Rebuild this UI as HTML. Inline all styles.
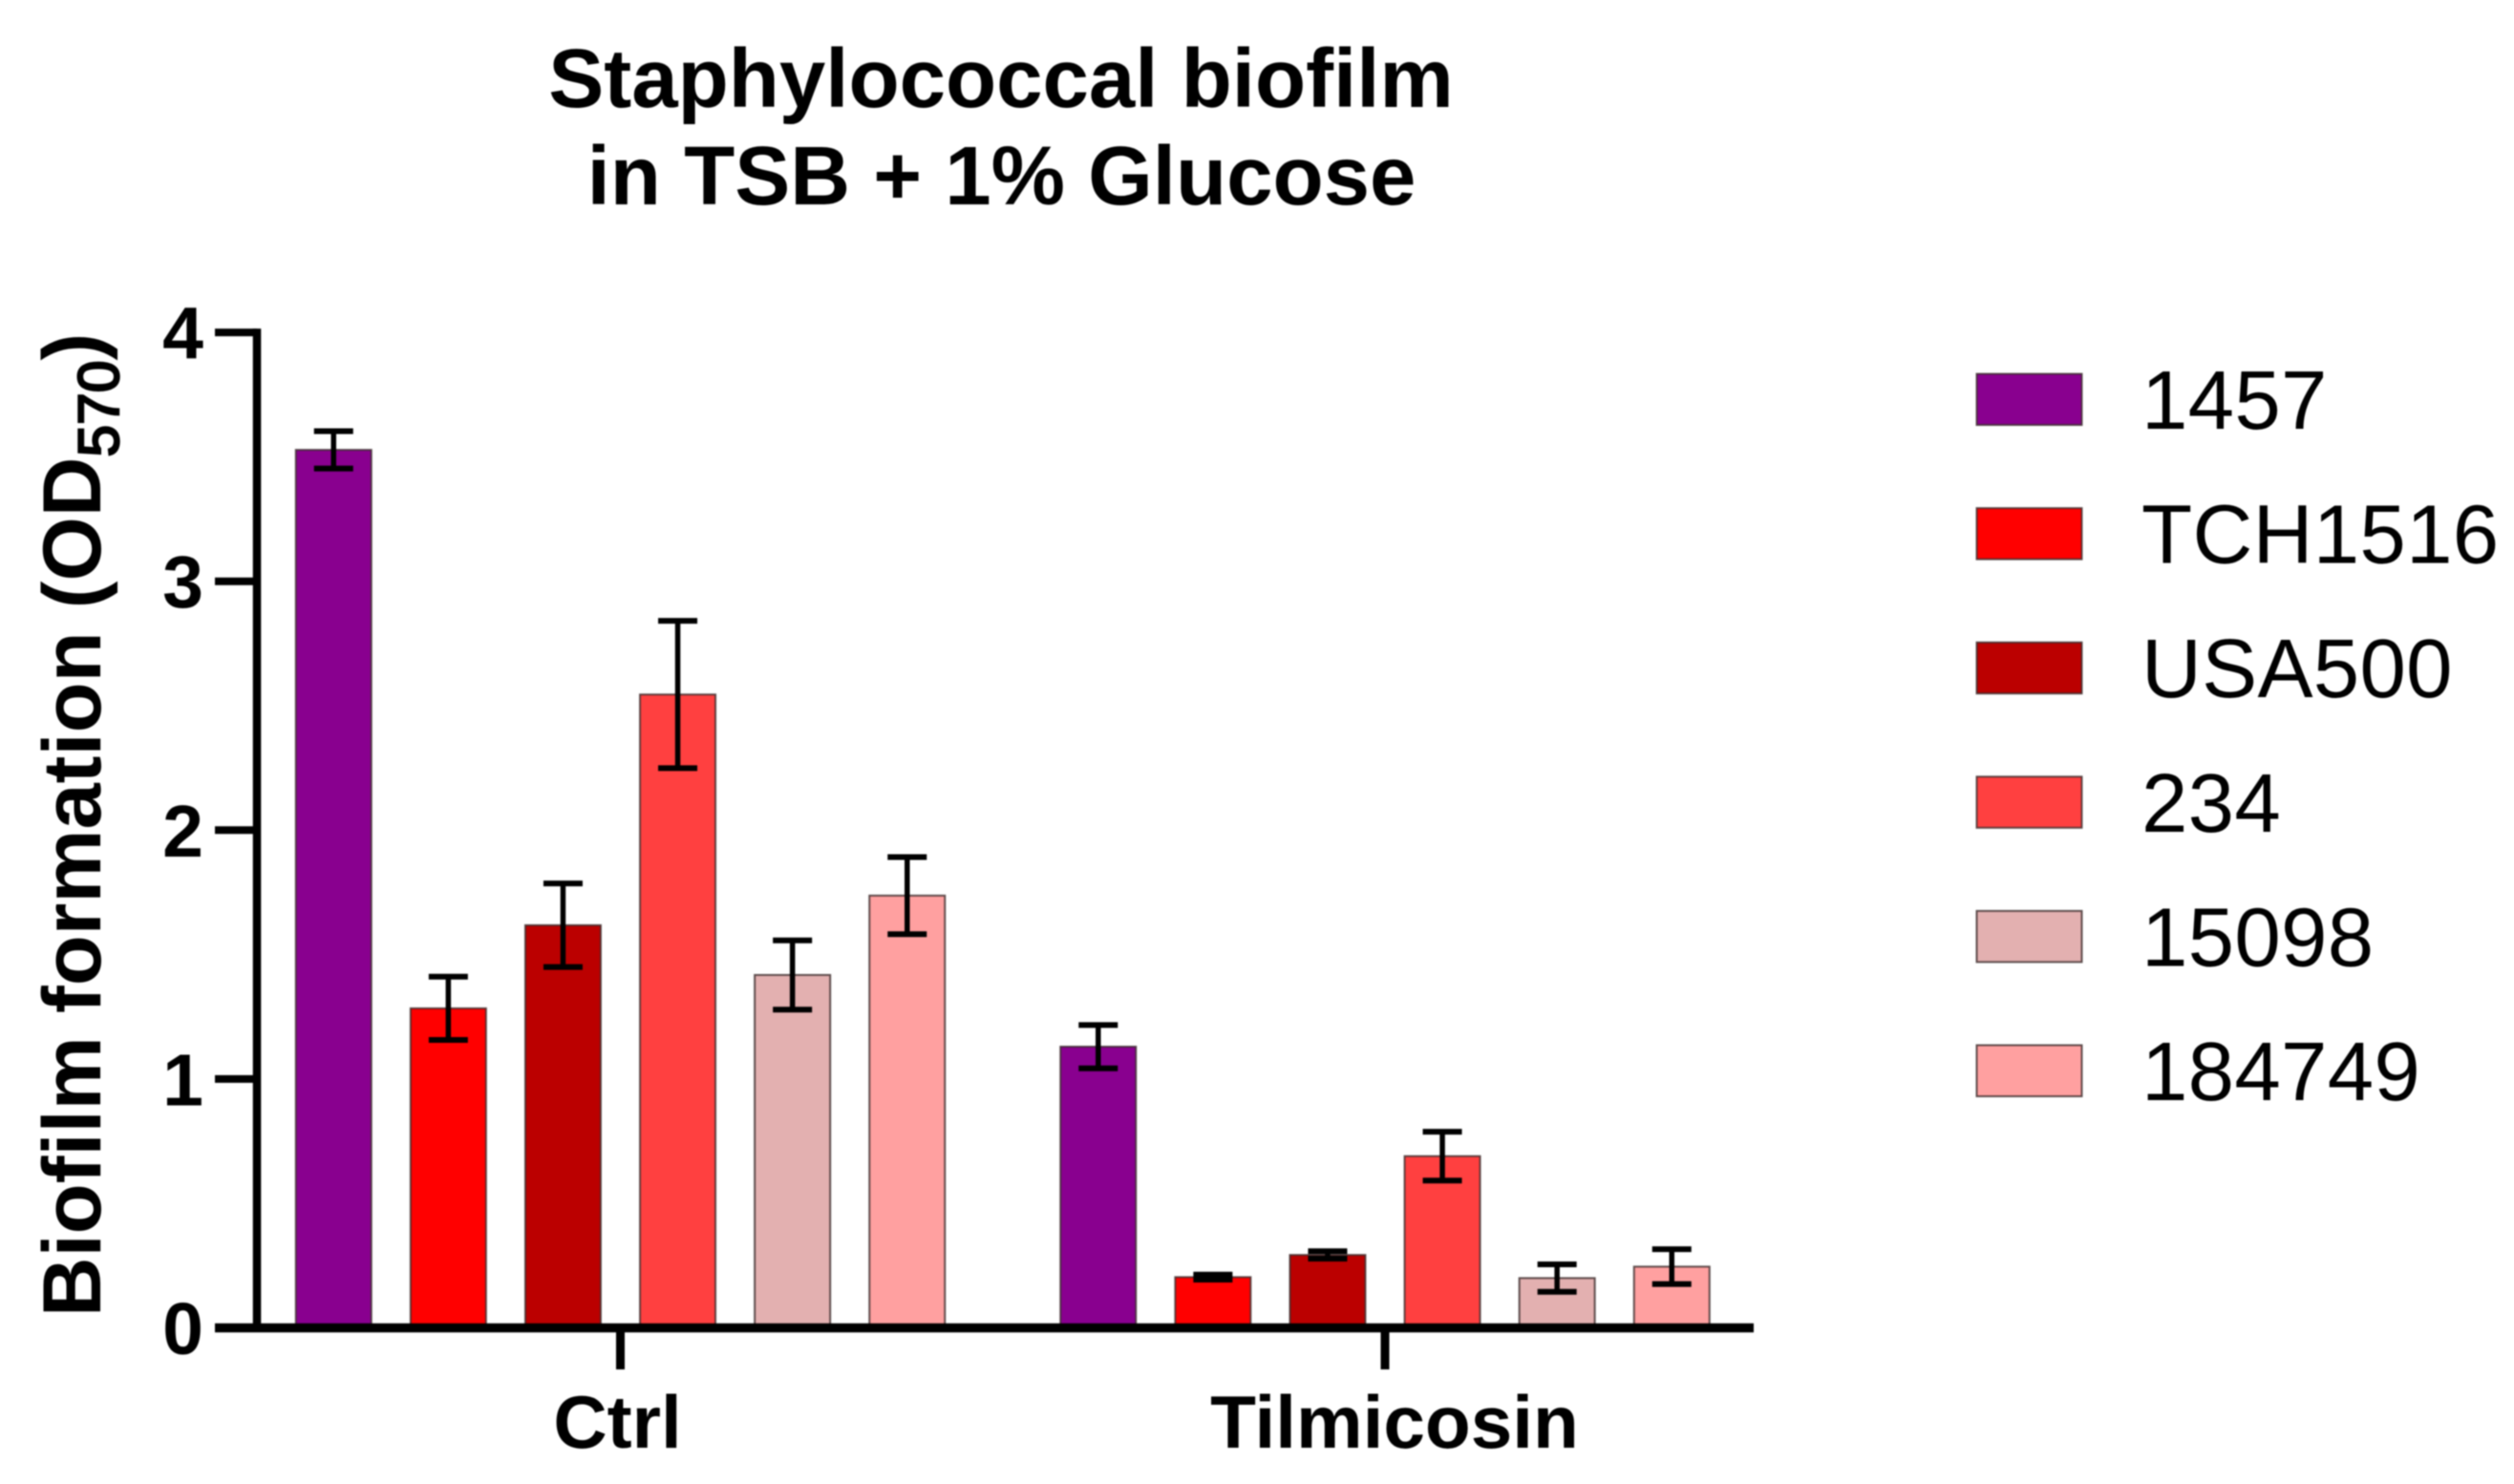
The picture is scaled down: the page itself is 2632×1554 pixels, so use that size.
<!DOCTYPE html>
<html lang="en">
<head>
<meta charset="utf-8">
<title>Staphylococcal biofilm in TSB + 1% Glucose</title>
<style>
  html, body { margin: 0; padding: 0; background: #fff; }
  body { width: 2632px; height: 1554px; overflow: hidden; }
  svg { display: block; filter: blur(0.9px); font-family: "Liberation Sans", Arial, sans-serif; }
</style>
</head>
<body>
<svg id="chart" xmlns="http://www.w3.org/2000/svg" width="2632" height="1554" viewBox="0 0 2632 1554">
  <rect x="0" y="0" width="2632" height="1554" fill="#ffffff"/>
  <g font-weight="700" font-size="87" text-anchor="middle" fill="#000">
    <text x="1048" y="112">Staphylococcal biofilm</text>
    <text x="1048.5" y="214">in TSB + 1% Glucose</text>
  </g>
  <text transform="translate(105,1379) rotate(-90)" font-weight="700" font-size="86.7" fill="#000">Biofilm formation (OD<tspan dy="19" font-size="60.5" font-weight="400" stroke="#000" stroke-width="2.4">570</tspan><tspan dy="-19">)</tspan></text>
  <g id="bars"></g>
  <g id="errors"></g>
  <g id="axes"></g>
  <g id="legend"></g>
</svg>
<script>
const categories = ["Ctrl", "Tilmicosin"];
const strains = ["1457", "TCH1516", "USA500", "234", "15098", "184749"];
const ctrlValues = [3.528, 1.284, 1.618, 2.545, 1.418, 1.737];
const ctrlErrors = [0.075, 0.127, 0.168, 0.296, 0.139, 0.155];
const tilmicosinValues = [1.13, 0.204, 0.293, 0.69, 0.2, 0.246];
const tilmicosinErrors = [0.087, 0.01, 0.015, 0.098, 0.055, 0.07];
const yTicks = [0, 1, 2, 3, 4];
const strainColors = ["#89008f", "#ff0000", "#bb0000", "#ff4040", "#e3b0b0", "#ffa0a0"];

const NS = "http://www.w3.org/2000/svg";
const seriesValues = [ctrlValues, tilmicosinValues];
const seriesErrors = [ctrlErrors, tilmicosinErrors];

function yScale(v) { return 1390.5 - v * 260.6; }
function groupCenter(g) { return 649.5 + g * 800.5; }
function barCenter(g, s) { return groupCenter(g) + (s - (strains.length - 1) / 2) * 120.1; }
function legendY(i) { return 391.5 + i * 140.6; }

function makeLine(x1, y1, x2, y2, width) {
  const l = document.createElementNS(NS, "line");
  l.setAttribute("x1", x1);
  l.setAttribute("y1", y1);
  l.setAttribute("x2", x2);
  l.setAttribute("y2", y2);
  l.setAttribute("stroke", "#000");
  l.setAttribute("stroke-width", width);
  return l;
}

function makeText(x, y, size, weight, anchor, str) {
  const t = document.createElementNS(NS, "text");
  t.setAttribute("x", x);
  t.setAttribute("y", y);
  t.setAttribute("font-size", size);
  t.setAttribute("font-weight", weight);
  t.setAttribute("text-anchor", anchor);
  t.setAttribute("fill", "#000");
  t.textContent = str;
  return t;
}

function makeRect(x, y, w, h, color) {
  const r = document.createElementNS(NS, "rect");
  r.setAttribute("x", x);
  r.setAttribute("y", y);
  r.setAttribute("width", w);
  r.setAttribute("height", h);
  r.setAttribute("fill", color);
  r.setAttribute("stroke", "#3a2a2a");
  r.setAttribute("stroke-opacity", "0.8");
  r.setAttribute("stroke-width", "2");
  return r;
}

const barsLayer = document.getElementById("bars");
const errorsLayer = document.getElementById("errors");
const axesLayer = document.getElementById("axes");
const legendLayer = document.getElementById("legend");

categories.forEach(function (cat, g) {
  strains.forEach(function (strain, s) {
    const v = seriesValues[g][s];
    const e = seriesErrors[g][s];
    const cx = barCenter(g, s);
    const top = yScale(v);
    const base = yScale(0);

    const bar = makeRect(cx - 39.5, top, 79, base - top, strainColors[s]);
    
    
    barsLayer.appendChild(bar);

    const stem = makeLine(cx, yScale(v + e), cx, yScale(v - e), 5.5);
    
    
    errorsLayer.appendChild(stem);

    const capTop = makeLine(cx - 20.5, yScale(v + e), cx + 20.5, yScale(v + e), 6);
    
    
    errorsLayer.appendChild(capTop);

    const capBottom = makeLine(cx - 20.5, yScale(v - e), cx + 20.5, yScale(v - e), 6);
    
    
    errorsLayer.appendChild(capBottom);
  });

  const xTick = makeLine(groupCenter(g), yScale(0), groupCenter(g), 1434, 9);
  
  
  axesLayer.appendChild(xTick);

  const xLabel = makeText(groupCenter(g) + (g === 0 ? -3 : 10), 1516, g === 0 ? 78 : 78.3, 700, "middle", cat);
  
  
  axesLayer.appendChild(xLabel);
});

const yAxisLine = makeLine(269, yScale(yTicks[yTicks.length - 1]) - 4, 269, yScale(0) + 4, 8.5);


axesLayer.appendChild(yAxisLine);

const xAxisLine = makeLine(225, yScale(0), 1836, yScale(0), 9.5);


axesLayer.appendChild(xAxisLine);

yTicks.forEach(function (t) {
  if (t !== 0) {
    const tick = makeLine(225, yScale(t), 269, yScale(t), 8);
    
    
    axesLayer.appendChild(tick);
  }
  const label = makeText(213, yScale(t) + 27.5, 77, 700, "end", String(t));
  
  
  axesLayer.appendChild(label);
});

strains.forEach(function (strain, i) {
  const entry = document.createElementNS(NS, "g");
  
  

  const swatch = makeRect(2069.5, legendY(i), 110, 53.5, strainColors[i]);
  
  
  entry.appendChild(swatch);

  const label = makeText(2242, legendY(i) + 57.5, 87, 400, "start", strain);
  label.setAttribute("letter-spacing", "0.3");
  
  
  entry.appendChild(label);

  legendLayer.appendChild(entry);
});
</script>
</body>
</html>
